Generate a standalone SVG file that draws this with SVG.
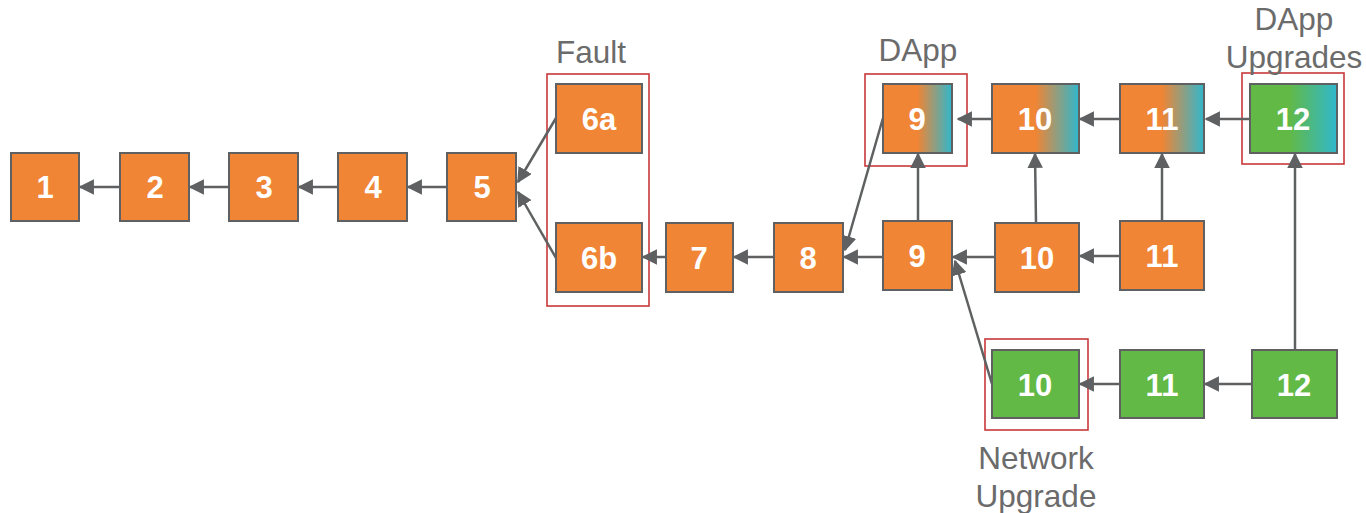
<svg xmlns="http://www.w3.org/2000/svg" width="1366" height="513" viewBox="0 0 1366 513">
  <style>
    .node rect { stroke: #5f6061; stroke-width: 2; }
    .orange { fill: #ef8535; }
    .green { fill: #62b946; }
    .num { font-family: "Liberation Sans", Arial, sans-serif; font-weight: bold; font-size: 31px; fill: #ffffff; text-anchor: middle; }
    .cap { font-family: "Liberation Sans", Arial, sans-serif; font-size: 31.5px; fill: #6b6b6b; text-anchor: middle; }
    .frame { fill: none; stroke: #c9373a; stroke-width: 1.6; }
    .conn line { stroke: #5f6061; stroke-width: 2.5; marker-end: url(#arrow); }
  </style>
  <defs>
    <linearGradient id="orangeTeal" x1="0" y1="0" x2="1" y2="0">
      <stop offset="0" stop-color="#ef8535"/>
      <stop offset="0.5" stop-color="#ef8535"/>
      <stop offset="1" stop-color="#30b7cc"/>
    </linearGradient>
    <linearGradient id="greenTeal" x1="0" y1="0" x2="1" y2="0">
      <stop offset="0" stop-color="#62b946"/>
      <stop offset="0.45" stop-color="#62b946"/>
      <stop offset="1" stop-color="#30b7cc"/>
    </linearGradient>
    <marker id="arrow" viewBox="0 0 10 10" refX="9" refY="5" markerWidth="6.2" markerHeight="6.2" orient="auto" markerUnits="strokeWidth">
      <path d="M0,0 L10,5 L0,10 z" fill="#5f6061"/>
    </marker>
  </defs>

  <!-- highlight frames and captions -->
  <g id="fault-group">
    <rect class="frame" x="547" y="74" width="102" height="232"/>
    <text class="cap" x="591" y="63">Fault</text>
  </g>
  <g id="dapp-group">
    <rect class="frame" x="865" y="74" width="102" height="92"/>
    <text class="cap" x="918" y="61">DApp</text>
  </g>
  <g id="dapp-upgrades-group">
    <rect class="frame" x="1242" y="73" width="102" height="91"/>
    <text class="cap" x="1294" y="30">DApp</text>
    <text class="cap" x="1294" y="68">Upgrades</text>
  </g>
  <g id="network-upgrade-group">
    <rect class="frame" x="985" y="339" width="103" height="91"/>
    <text class="cap" x="1036" y="469">Network</text>
    <text class="cap" x="1036" y="507">Upgrade</text>
  </g>

  <!-- connectors -->
  <g id="connectors" class="conn">
    <line x1="120" y1="187" x2="80" y2="187"/>
    <line x1="229" y1="187" x2="190" y2="187"/>
    <line x1="338" y1="187" x2="299" y2="187"/>
    <line x1="447" y1="187" x2="408" y2="187"/>
    <line x1="556" y1="118" x2="518" y2="182"/>
    <line x1="556" y1="258" x2="518" y2="192"/>
    <line x1="666" y1="257" x2="643" y2="257"/>
    <line x1="774" y1="257" x2="734" y2="257"/>
    <line x1="883" y1="257" x2="844" y2="257"/>
    <line x1="883" y1="118" x2="845" y2="250"/>
    <line x1="995" y1="257" x2="953" y2="257"/>
    <line x1="992" y1="384" x2="955" y2="261"/>
    <line x1="1120" y1="256" x2="1080" y2="256"/>
    <line x1="918" y1="221" x2="918" y2="154"/>
    <line x1="1036" y1="223" x2="1035" y2="154"/>
    <line x1="1162" y1="221" x2="1162" y2="154"/>
    <line x1="1295" y1="350" x2="1295" y2="154"/>
    <line x1="992" y1="119" x2="958" y2="119"/>
    <line x1="1120" y1="119" x2="1080" y2="119"/>
    <line x1="1250" y1="119" x2="1206" y2="119"/>
    <line x1="1120" y1="384" x2="1080" y2="384"/>
    <line x1="1252" y1="384" x2="1205" y2="384"/>
  </g>

  <!-- main chain -->
  <g id="n1" class="node"><rect class="orange" x="11" y="153" width="68" height="68"/><text class="num" x="45" y="198">1</text></g>
  <g id="n2" class="node"><rect class="orange" x="120" y="153" width="69" height="68"/><text class="num" x="155" y="198">2</text></g>
  <g id="n3" class="node"><rect class="orange" x="229" y="153" width="69" height="68"/><text class="num" x="264" y="198">3</text></g>
  <g id="n4" class="node"><rect class="orange" x="338" y="153" width="69" height="68"/><text class="num" x="373" y="198">4</text></g>
  <g id="n5" class="node"><rect class="orange" x="447" y="153" width="69" height="68"/><text class="num" x="482" y="198">5</text></g>
  <g id="n6a" class="node"><rect class="orange" x="556" y="84" width="86" height="69"/><text class="num" x="599" y="130">6a</text></g>
  <g id="n6b" class="node"><rect class="orange" x="556" y="223" width="86" height="69"/><text class="num" x="599" y="269">6b</text></g>
  <g id="n7" class="node"><rect class="orange" x="666" y="223" width="67" height="69"/><text class="num" x="699" y="269">7</text></g>
  <g id="n8" class="node"><rect class="orange" x="774" y="223" width="69" height="69"/><text class="num" x="808" y="269">8</text></g>
  <g id="n9" class="node"><rect class="orange" x="883" y="221" width="69" height="69"/><text class="num" x="917" y="267">9</text></g>
  <g id="n10" class="node"><rect class="orange" x="995" y="223" width="84" height="69"/><text class="num" x="1037" y="269">10</text></g>
  <g id="n11" class="node"><rect class="orange" x="1120" y="221" width="84" height="69"/><text class="num" x="1162" y="267">11</text></g>

  <!-- DApp branch -->
  <g id="d9" class="node"><rect fill="url(#orangeTeal)" x="883" y="84" width="69" height="69"/><text class="num" x="917" y="130">9</text></g>
  <g id="d10" class="node"><rect fill="url(#orangeTeal)" x="992" y="84" width="87" height="69"/><text class="num" x="1035" y="130">10</text></g>
  <g id="d11" class="node"><rect fill="url(#orangeTeal)" x="1120" y="84" width="84" height="69"/><text class="num" x="1162" y="130">11</text></g>
  <g id="d12" class="node"><rect fill="url(#greenTeal)" x="1250" y="84" width="87" height="69"/><text class="num" x="1293" y="130">12</text></g>

  <!-- network upgrade branch -->
  <g id="u10" class="node"><rect class="green" x="992" y="350" width="87" height="68"/><text class="num" x="1035" y="396">10</text></g>
  <g id="u11" class="node"><rect class="green" x="1120" y="350" width="84" height="68"/><text class="num" x="1162" y="396">11</text></g>
  <g id="u12" class="node"><rect class="green" x="1252" y="350" width="85" height="68"/><text class="num" x="1294" y="396">12</text></g>
</svg>
